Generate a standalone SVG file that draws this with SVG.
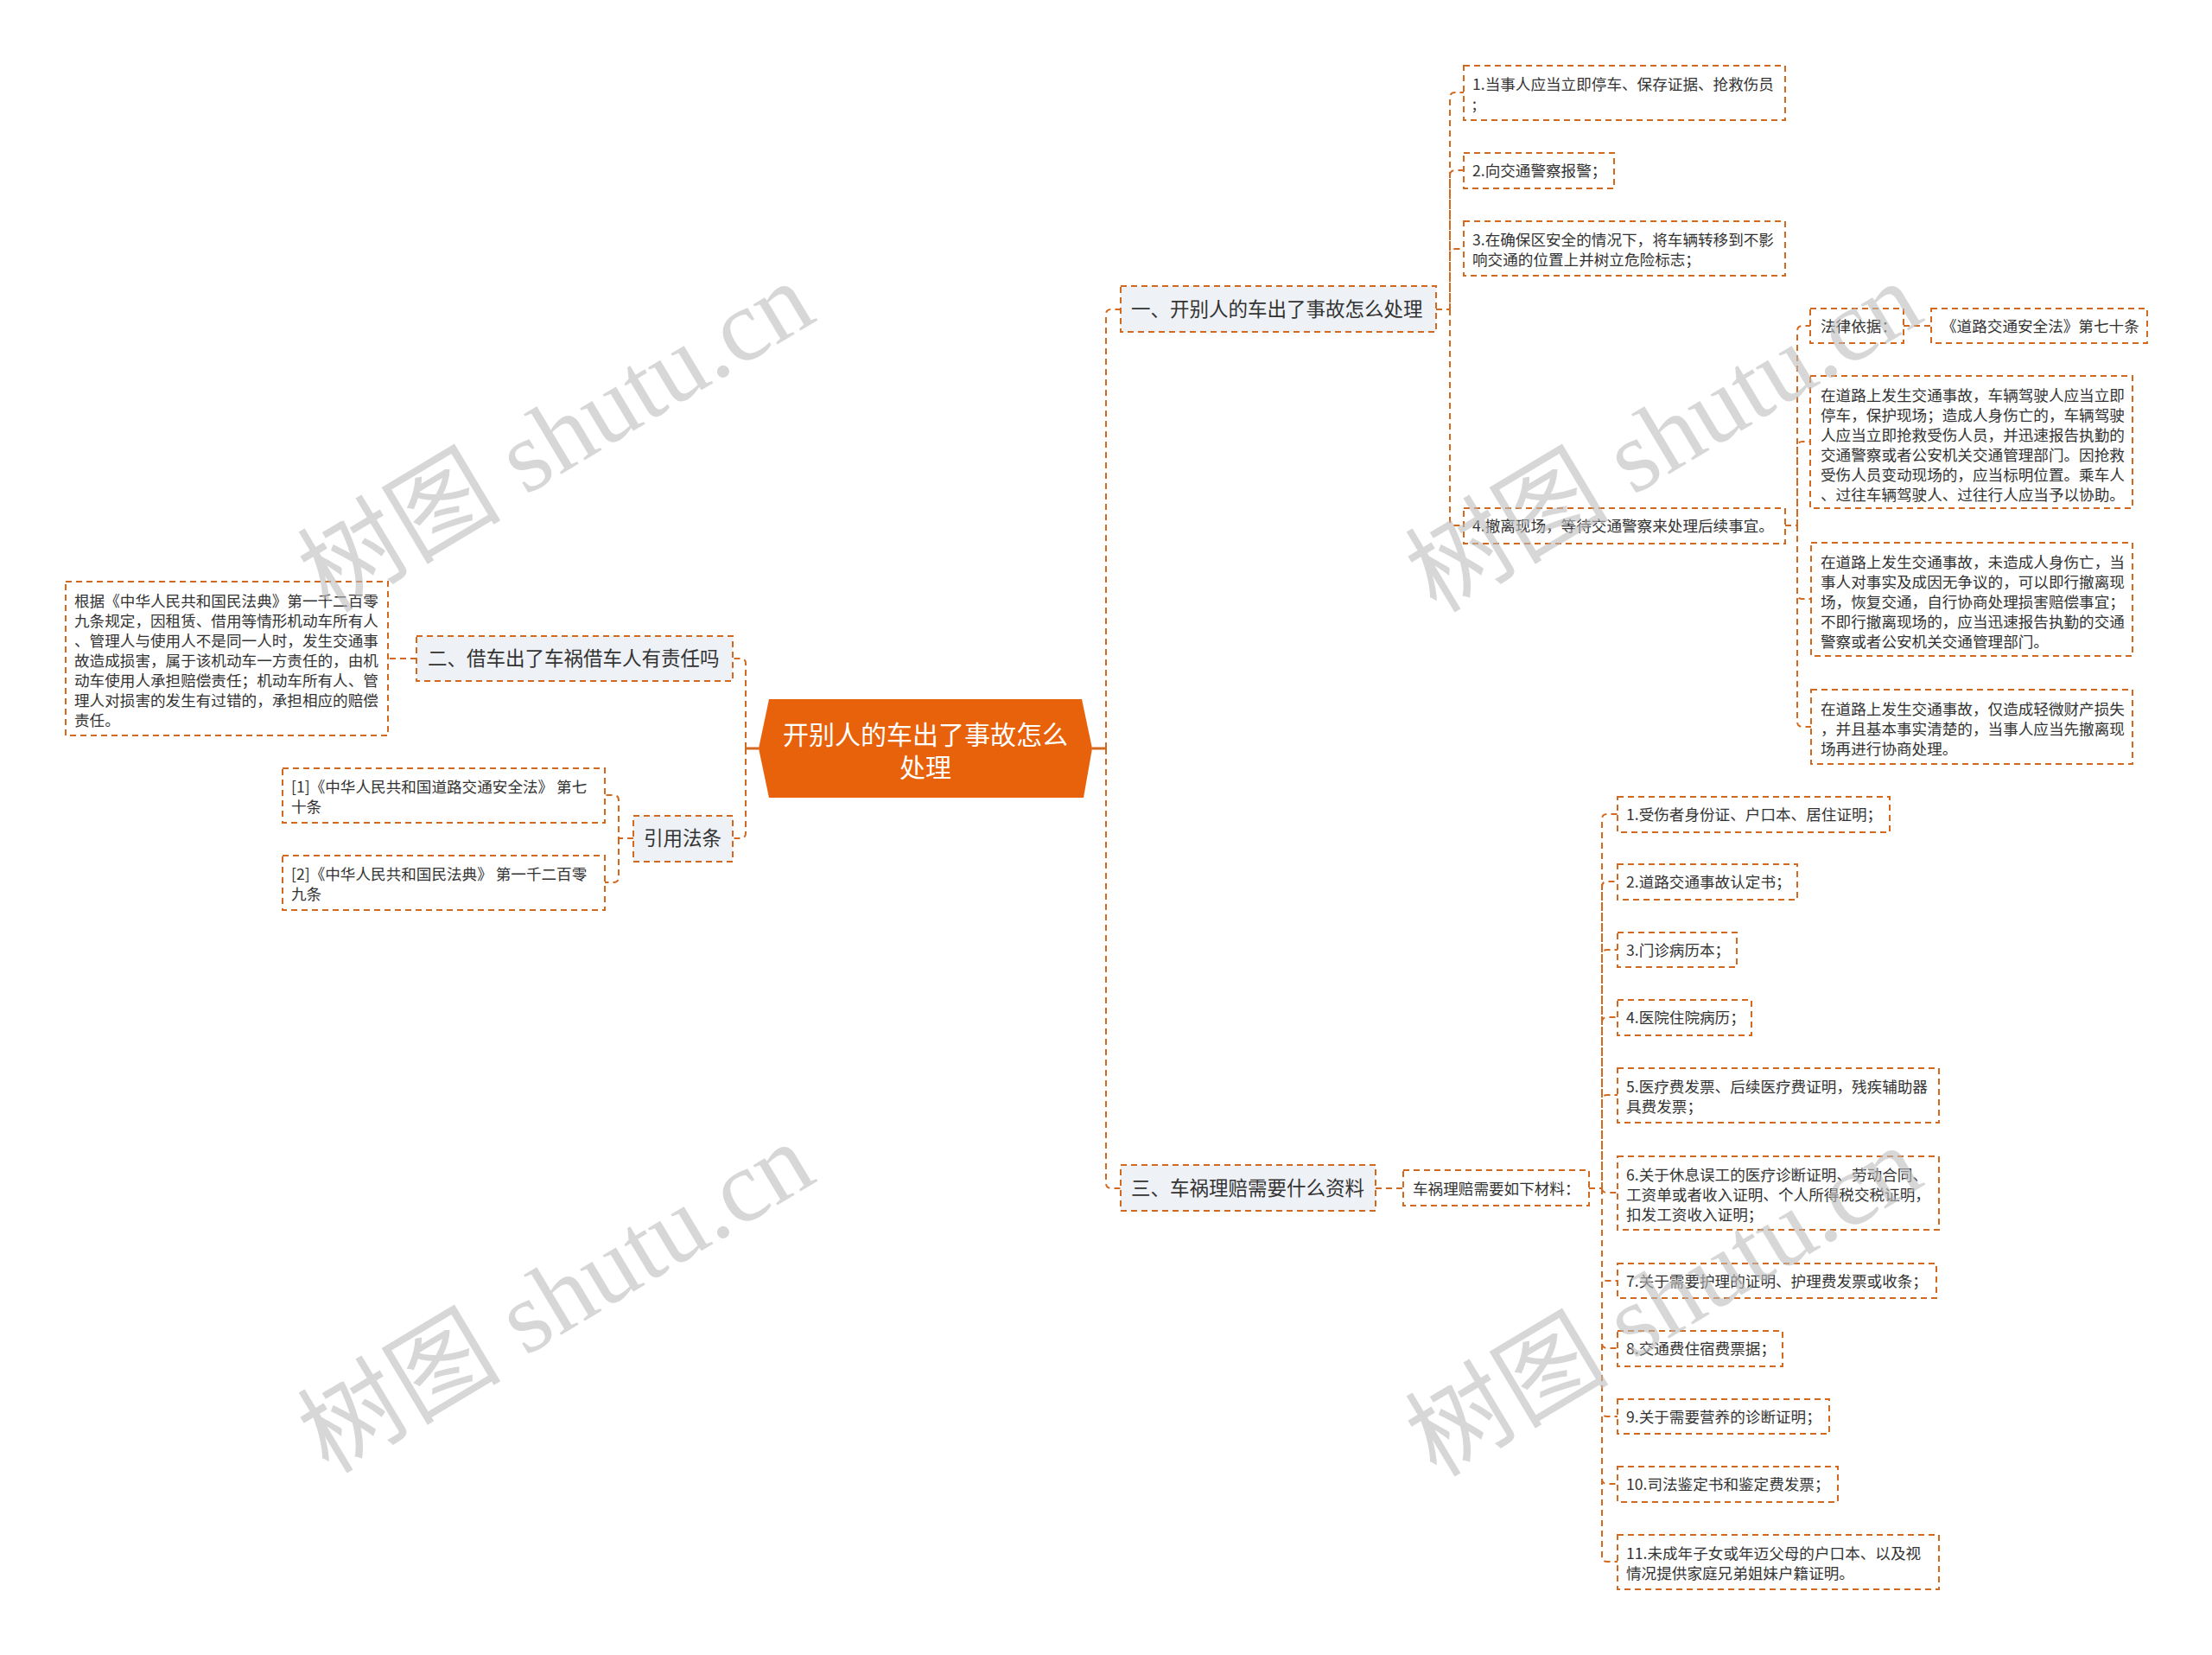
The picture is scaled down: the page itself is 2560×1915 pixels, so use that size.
<svg xmlns="http://www.w3.org/2000/svg" width="2560" height="1915" viewBox="0 0 2560 1915">
<style>
.box{fill:#ffffff;stroke:#D2691E;stroke-width:2;stroke-dasharray:7 5}
.br{fill:#EEF1F5;stroke:#D2691E;stroke-width:2;stroke-dasharray:7 5}
.t{font-family:"Noto Sans CJK SC","Noto Sans",sans-serif;font-size:17.6px;fill:#333333}
.tb{font-family:"Noto Sans CJK SC","Noto Sans",sans-serif;font-size:22.5px;fill:#333333}
.tr{font-family:"Noto Sans CJK SC","Noto Sans",sans-serif;font-size:30px;fill:#ffffff}
.conn{fill:none;stroke:#D2691E;stroke-width:2;stroke-dasharray:7 5}
.solid{fill:none;stroke:#D2691E;stroke-width:3}
.wm{font-family:"Liberation Serif","Noto Sans CJK SC",serif;font-size:118px;fill:#bdbdbd;opacity:0.6}
</style>
<rect x="0" y="0" width="2560" height="1915" fill="#ffffff"/>

<g id="connectors">
  <path class="solid" d="M1264,866 H1280"/>
  <path class="solid" d="M878,866 H863"/>
  <path class="conn" d="M1280,866 V364 Q1280,358 1286,358 H1297"/>
  <path class="conn" d="M1280,866 V1369 Q1280,1375 1286,1375 H1297"/>
  <path class="conn" d="M863,866 V768 Q863,762 857,762 H848"/>
  <path class="conn" d="M863,866 V964 Q863,970 857,970 H848"/>
  <path class="conn" d="M482,762 H449"/>
  <path class="conn" d="M733,970 H716 V926 Q716,920 710,920 H700"/>
  <path class="conn" d="M716,970 V1015 Q716,1021 710,1021 H700"/>
  <path class="conn" d="M1662,358 H1678 V113 Q1678,107 1684,107 H1694"/>
  <path class="conn" d="M1678,358 V203 Q1678,197 1684,197 H1694"/>
  <path class="conn" d="M1678,358 V294 Q1678,288 1684,288 H1694"/>
  <path class="conn" d="M1678,358 V602 Q1678,608 1684,608 H1694"/>
  <path class="conn" d="M2066,608 H2080 V383 Q2080,377 2086,377 H2095"/>
  <path class="conn" d="M2080,608 V517 Q2080,511 2086,511 H2095"/>
  <path class="conn" d="M2080,608 V687 Q2080,693 2086,693 H2096"/>
  <path class="conn" d="M2080,608 V835 Q2080,841 2086,841 H2096"/>
  <path class="conn" d="M2203,377 H2235"/>
  <path class="conn" d="M1592,1375 H1624"/>
  <path class="conn" d="M1839,1375 H1854 V948 Q1854,942 1860,942 H1872"/>
  <path class="conn" d="M1854,1375 V1026 Q1854,1020 1860,1020 H1872"/>
  <path class="conn" d="M1854,1375 V1105 Q1854,1099 1860,1099 H1872"/>
  <path class="conn" d="M1854,1375 V1183 Q1854,1177 1860,1177 H1872"/>
  <path class="conn" d="M1854,1375 V1273 Q1854,1267 1860,1267 H1872"/>
  <path class="conn" d="M1854,1375 Q1854,1380 1860,1380 H1872"/>
  <path class="conn" d="M1854,1375 V1476 Q1854,1482 1860,1482 H1872"/>
  <path class="conn" d="M1854,1375 V1554 Q1854,1560 1860,1560 H1872"/>
  <path class="conn" d="M1854,1375 V1633 Q1854,1639 1860,1639 H1872"/>
  <path class="conn" d="M1854,1375 V1711 Q1854,1717 1860,1717 H1872"/>
  <path class="conn" d="M1854,1375 V1801 Q1854,1807 1860,1807 H1872"/>
</g>

<g id="root">
  <polygon points="890,809 1252,809 1264,866 1254,923 890,923 878,866" fill="#E8620C"/>
  <text class="tr" x="1071" y="861" text-anchor="middle">开别人的车出了事故怎么</text>
  <text class="tr" x="1071" y="899" text-anchor="middle">处理</text>
</g>

<g id="branch1">
  <rect class="br" x="1297" y="331" width="365" height="53"/>
  <text class="tb" x="1309" y="366">一、开别人的车出了事故怎么处理</text>
</g>
<g id="b1-item1">
  <rect class="box" x="1694" y="76" width="372" height="63"/>
  <text class="t" x="1704" y="103.5">1.当事人应当立即停车、保存证据、抢救伤员</text>
  <text class="t" x="1704" y="126.5">;</text>
</g>
<g id="b1-item2">
  <rect class="box" x="1694" y="177" width="174" height="41"/>
  <text class="t" x="1704" y="204">2.向交通警察报警；</text>
</g>
<g id="b1-item3">
  <rect class="box" x="1694" y="256" width="372" height="63"/>
  <text class="t" x="1704" y="283.5">3.在确保区安全的情况下，将车辆转移到不影</text>
  <text class="t" x="1704" y="306.5">响交通的位置上并树立危险标志；</text>
</g>
<g id="b1-item4">
  <rect class="box" x="1694" y="588" width="372" height="41"/>
  <text class="t" x="1704" y="615">4.撤离现场，等待交通警察来处理后续事宜。</text>
</g>
<g id="law-label">
  <rect class="box" x="2095" y="357" width="108" height="40"/>
  <text class="t" x="2107" y="383.5">法律依据：</text>
</g>
<g id="law-name">
  <rect class="box" x="2235" y="357" width="250" height="40"/>
  <text class="t" x="2247" y="383.5">《道路交通安全法》第七十条</text>
</g>
<g id="law-text1">
  <rect class="box" x="2095" y="435" width="373" height="153"/>
  <text class="t" x="2107" y="463.5">在道路上发生交通事故，车辆驾驶人应当立即</text>
  <text class="t" x="2107" y="486.5">停车，保护现场；造成人身伤亡的，车辆驾驶</text>
  <text class="t" x="2107" y="509.5">人应当立即抢救受伤人员，并迅速报告执勤的</text>
  <text class="t" x="2107" y="532.5">交通警察或者公安机关交通管理部门。因抢救</text>
  <text class="t" x="2107" y="555.5">受伤人员变动现场的，应当标明位置。乘车人</text>
  <text class="t" x="2107" y="578.5">、过往车辆驾驶人、过往行人应当予以协助。</text>
</g>
<g id="law-text2">
  <rect class="box" x="2096" y="628" width="372" height="131"/>
  <text class="t" x="2107" y="656.5">在道路上发生交通事故，未造成人身伤亡，当</text>
  <text class="t" x="2107" y="679.5">事人对事实及成因无争议的，可以即行撤离现</text>
  <text class="t" x="2107" y="702.5">场，恢复交通，自行协商处理损害赔偿事宜；</text>
  <text class="t" x="2107" y="725.5">不即行撤离现场的，应当迅速报告执勤的交通</text>
  <text class="t" x="2107" y="748.5">警察或者公安机关交通管理部门。</text>
</g>
<g id="law-text3">
  <rect class="box" x="2096" y="798" width="372" height="86"/>
  <text class="t" x="2107" y="826.5">在道路上发生交通事故，仅造成轻微财产损失</text>
  <text class="t" x="2107" y="849.5">，并且基本事实清楚的，当事人应当先撤离现</text>
  <text class="t" x="2107" y="872.5">场再进行协商处理。</text>
</g>

<g id="branch2">
  <rect class="br" x="482" y="736" width="366" height="52"/>
  <text class="tb" x="495" y="770">二、借车出了车祸借车人有责任吗</text>
</g>
<g id="b2-text">
  <rect class="box" x="76" y="673" width="373" height="178"/>
  <text class="t" x="86" y="701.5">根据《中华人民共和国民法典》第一千二百零</text>
  <text class="t" x="86" y="724.5">九条规定，因租赁、借用等情形机动车所有人</text>
  <text class="t" x="86" y="747.5">、管理人与使用人不是同一人时，发生交通事</text>
  <text class="t" x="86" y="770.5">故造成损害，属于该机动车一方责任的，由机</text>
  <text class="t" x="86" y="793.5">动车使用人承担赔偿责任；机动车所有人、管</text>
  <text class="t" x="86" y="816.5">理人对损害的发生有过错的，承担相应的赔偿</text>
  <text class="t" x="86" y="839.5">责任。</text>
</g>

<g id="refs">
  <rect class="br" x="733" y="944" width="115" height="53"/>
  <text class="tb" x="745" y="978">引用法条</text>
</g>
<g id="ref1">
  <rect class="box" x="327" y="889" width="373" height="63"/>
  <text class="t" x="337" y="916.5">[1]《中华人民共和国道路交通安全法》 第七</text>
  <text class="t" x="337" y="939.5">十条</text>
</g>
<g id="ref2">
  <rect class="box" x="327" y="990" width="373" height="63"/>
  <text class="t" x="337" y="1017.5">[2]《中华人民共和国民法典》 第一千二百零</text>
  <text class="t" x="337" y="1040.5">九条</text>
</g>

<g id="branch3">
  <rect class="br" x="1297" y="1348" width="295" height="53"/>
  <text class="tb" x="1309" y="1383">三、车祸理赔需要什么资料</text>
</g>
<g id="b3-intro">
  <rect class="box" x="1624" y="1354" width="215" height="41"/>
  <text class="t" x="1635" y="1381.5">车祸理赔需要如下材料：</text>
</g>
<g id="m1">
  <rect class="box" x="1872" y="922" width="315" height="41"/>
  <text class="t" x="1882" y="949">1.受伤者身份证、户口本、居住证明；</text>
</g>
<g id="m2">
  <rect class="box" x="1872" y="1000" width="208" height="41"/>
  <text class="t" x="1882" y="1027">2.道路交通事故认定书；</text>
</g>
<g id="m3">
  <rect class="box" x="1872" y="1079" width="138" height="40"/>
  <text class="t" x="1882" y="1105.5">3.门诊病历本；</text>
</g>
<g id="m4">
  <rect class="box" x="1872" y="1157" width="155" height="41"/>
  <text class="t" x="1882" y="1184">4.医院住院病历；</text>
</g>
<g id="m5">
  <rect class="box" x="1872" y="1236" width="372" height="63"/>
  <text class="t" x="1882" y="1263.5">5.医疗费发票、后续医疗费证明，残疾辅助器</text>
  <text class="t" x="1882" y="1286.5">具费发票；</text>
</g>
<g id="m6">
  <rect class="box" x="1872" y="1338" width="372" height="85"/>
  <text class="t" x="1882" y="1365.5">6.关于休息误工的医疗诊断证明、劳动合同、</text>
  <text class="t" x="1882" y="1388.5">工资单或者收入证明、个人所得税交税证明，</text>
  <text class="t" x="1882" y="1411.5">扣发工资收入证明；</text>
</g>
<g id="m7">
  <rect class="box" x="1872" y="1462" width="369" height="40"/>
  <text class="t" x="1882" y="1488.5">7.关于需要护理的证明、护理费发票或收条；</text>
</g>
<g id="m8">
  <rect class="box" x="1872" y="1540" width="191" height="41"/>
  <text class="t" x="1882" y="1567">8.交通费住宿费票据；</text>
</g>
<g id="m9">
  <rect class="box" x="1872" y="1619" width="245" height="40"/>
  <text class="t" x="1882" y="1645.5">9.关于需要营养的诊断证明；</text>
</g>
<g id="m10">
  <rect class="box" x="1872" y="1697" width="255" height="41"/>
  <text class="t" x="1882" y="1724">10.司法鉴定书和鉴定费发票；</text>
</g>
<g id="m11">
  <rect class="box" x="1872" y="1776" width="372" height="63"/>
  <text class="t" x="1882" y="1803.5">11.未成年子女或年迈父母的户口本、以及视</text>
  <text class="t" x="1882" y="1826.5">情况提供家庭兄弟姐妹户籍证明。</text>
</g>

<g id="watermarks">
  <text class="wm" x="664" y="540" text-anchor="middle" transform="rotate(-31 664 540)">树图 shutu.cn</text>
  <text class="wm" x="1946" y="540" text-anchor="middle" transform="rotate(-31 1946 540)">树图 shutu.cn</text>
  <text class="wm" x="664" y="1536" text-anchor="middle" transform="rotate(-31 664 1536)">树图 shutu.cn</text>
  <text class="wm" x="1946" y="1540" text-anchor="middle" transform="rotate(-31 1946 1540)">树图 shutu.cn</text>
</g>
</svg>
